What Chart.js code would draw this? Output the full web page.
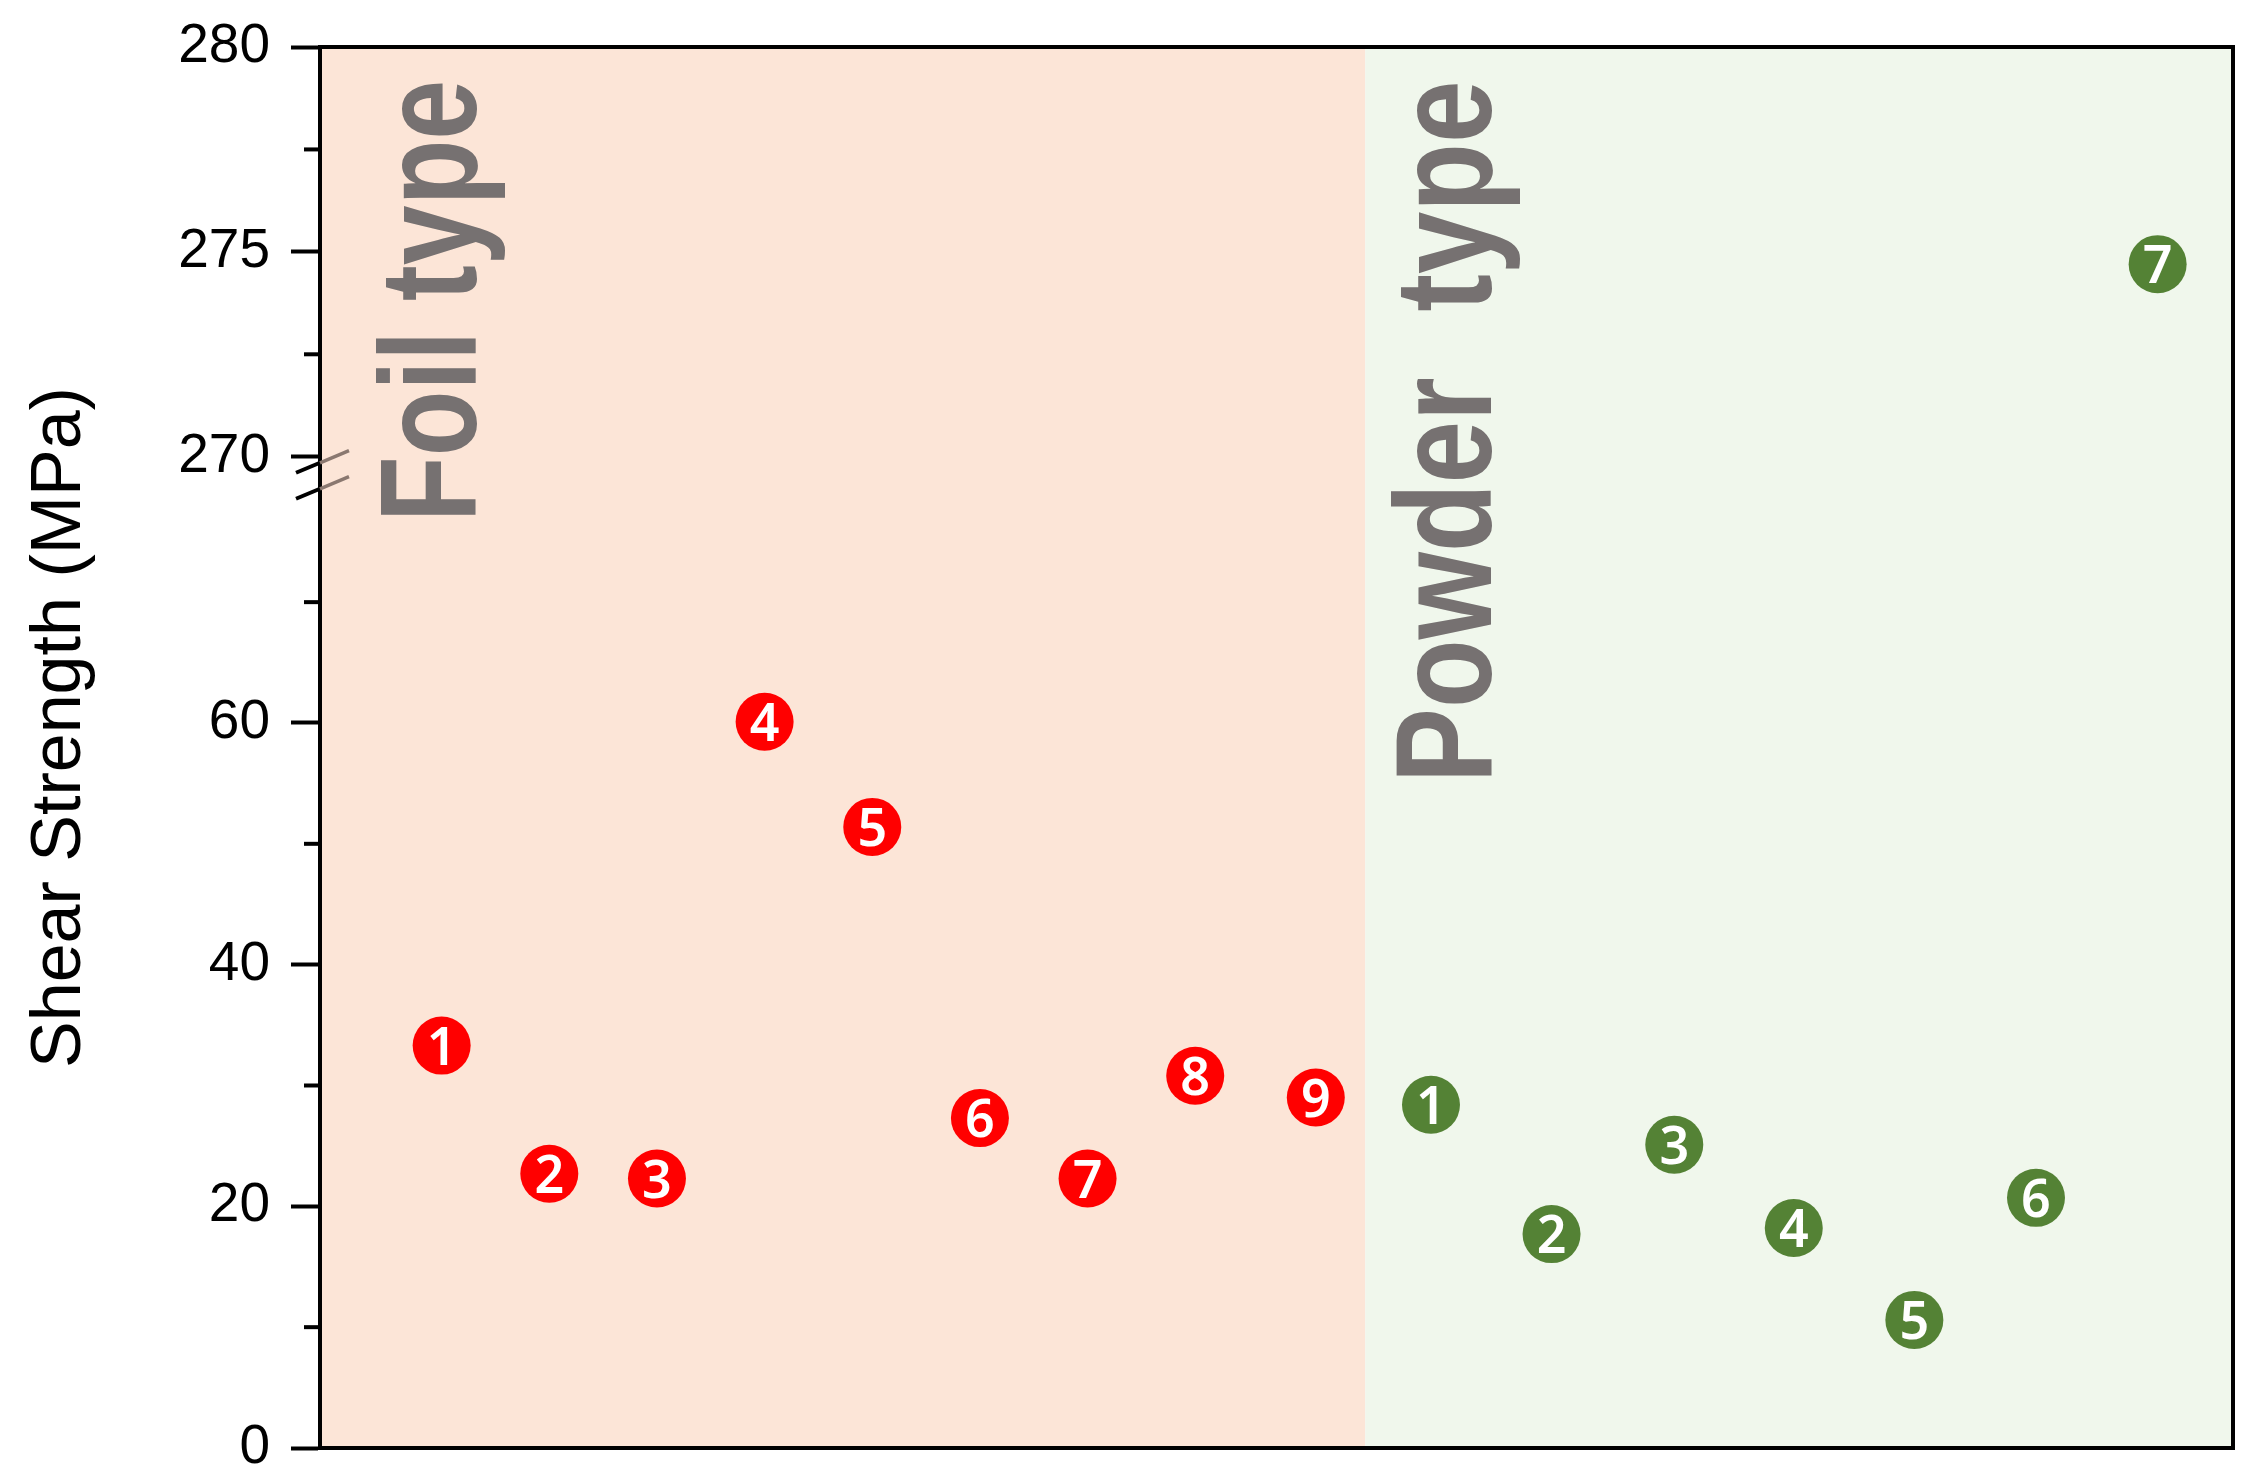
<!DOCTYPE html>
<html>
<head>
<meta charset="utf-8">
<script src="https://cdn.jsdelivr.net/npm/chart.js@4.4.0/dist/chart.umd.min.js"></script>
<style>
  html, body { margin: 0; padding: 0; background: #fff; }
</style>
</head>
<body>
<canvas id="myChart" width="2262" height="1484"></canvas>
<script>
// sample numbers and their horizontal slot (foil spacing = 1)
const foilNo = [1, 2, 3, 4, 5, 6, 7, 8, 9];
const foilPos = [1, 2, 3, 4, 5, 6, 7, 8, 9.12];
const foilShear = [33.3, 22.7, 22.3, 60.1, 51.4, 27.3, 22.3, 30.8, 29.0];

const powderNo = [1, 2, 3, 4, 5, 6, 7];
const powderPos = [10.19, 11.31, 12.45, 13.56, 14.68, 15.81, 16.94];
const powderShear = [28.4, 17.7, 25.1, 18.2, 10.6, 20.7, 274.7];

const lowTicks = [0, 10, 20, 30, 40, 50, 60, 70];
const lowLabels = [0, 20, 40, 60];
const highTicks = [270, 272.5, 275, 277.5, 280];
const highLabels = [270, 275, 280];

const typeNames = ['Foil type', 'Powder type'];
const typeSplit = 9.58;
const breakValue = 269;

const FONT = "'Liberation Sans', Arial, sans-serif";

const toPoints = (pos, vals, nos, keep) => {
    const pts = [];
    pos.forEach((p, i) => {
        if (keep(vals[i])) pts.push({ x: p, y: vals[i], no: nos[i] });
    });
    return pts;
};

// fixed axis width, and no extra room for the end labels
const fixWidth = scale => {
    scale.width = 320;
    scale.paddingTop = 0;
    scale.paddingBottom = 0;
};

const axisCommon = {
    type: 'linear',
    position: 'left',
    stack: 'shear',
    afterFit: fixWidth,
    border: { display: true, color: '#000', width: 4 },
    grid: {
        drawOnChartArea: false,
        tickLength: 29,
        tickWidth: 4,
        tickColor: c => (c.tick && c.tick.major) ? '#000' : 'rgba(0,0,0,0)'
    },
    ticks: {
        padding: 21,
        color: '#000',
        font: { family: FONT, size: 55 }
    }
};

const setTicks = (list, labels) => scale => {
    scale.ticks = list.map(v => ({ value: v, major: labels.includes(v) }));
};

const backPlugin = {
    id: 'backPlugin',
    beforeDatasetsDraw(chart) {
        const { ctx, chartArea: a, scales } = chart;
        const sx = scales.x.getPixelForValue(typeSplit);
        ctx.save();
        ctx.fillStyle = '#FCE5D7';
        ctx.fillRect(a.left, a.top, sx - a.left, a.bottom - a.top);
        ctx.fillStyle = '#F0F7EC';
        ctx.fillRect(sx, a.top, a.right - sx, a.bottom - a.top);

        // big rotated labels
        ctx.fillStyle = '#767171';
        ctx.font = 'bold 137px ' + FONT;
        ctx.textAlign = 'left';
        ctx.textBaseline = 'alphabetic';
        const spots = [[a.left + 156, a.top + 475, 0.785, '0px'], [sx + 126, a.top + 736, 0.82, '42px']];
        typeNames.forEach((t, i) => {
            ctx.save();
            ctx.translate(spots[i][0], spots[i][1]);
            ctx.rotate(-Math.PI / 2);
            ctx.scale(spots[i][2], 1);
            ctx.wordSpacing = spots[i][3];
            ctx.fillText(t, 0, 0);
            ctx.restore();
        });
        ctx.restore();
    },
    afterDatasetsDraw(chart) {
        const { ctx } = chart;
        ctx.save();
        ctx.fillStyle = '#fff';
        ctx.font = '600 52px "Noto Sans", ' + FONT;
        ctx.textAlign = 'center';
        ctx.textBaseline = 'alphabetic';
        chart.data.datasets.forEach((ds, di) => {
            const meta = chart.getDatasetMeta(di);
            meta.data.forEach((el, i) => {
                ctx.fillText(String(ds.data[i].no), el.x, el.y + 19);
            });
        });
        ctx.restore();
    },
    afterDraw(chart) {
        const { ctx, chartArea: a, scales } = chart;
        ctx.save();
        ctx.strokeStyle = '#000';
        ctx.lineWidth = 4;
        ctx.strokeRect(a.left, a.top, a.right - a.left, a.bottom - a.top);

        // minor ticks
        const minor = (scale, list, labels) => {
            list.filter(v => !labels.includes(v)).forEach(v => {
                const y = scale.getPixelForValue(v);
                ctx.beginPath();
                ctx.moveTo(a.left - 16, y);
                ctx.lineTo(a.left, y);
                ctx.stroke();
            });
        };
        minor(scales.yLow, lowTicks, lowLabels);
        minor(scales.yHigh, highTicks, highLabels);

        // axis break marks
        const y0 = scales.yHigh.getPixelForValue(highTicks[0]);
        [16, 42].forEach(off => {
            const x1 = a.left - 24, y1 = y0 + off;
            const x2 = a.left + 29, y2 = y0 + off - 22;
            const xm = a.left, ym = y1 + (y2 - y1) * (xm - x1) / (x2 - x1);
            ctx.lineWidth = 4;
            ctx.strokeStyle = '#000';
            ctx.beginPath();
            ctx.moveTo(x1, y1);
            ctx.lineTo(xm, ym);
            ctx.stroke();
            ctx.strokeStyle = '#8a7870';
            ctx.lineWidth = 3.5;
            ctx.beginPath();
            ctx.moveTo(xm, ym);
            ctx.lineTo(x2, y2);
            ctx.stroke();
        });

        // y axis title
        ctx.fillStyle = '#000';
        ctx.font = '70px ' + FONT;
        ctx.textAlign = 'center';
        ctx.textBaseline = 'alphabetic';
        ctx.translate(80, (a.top + a.bottom) / 2 - 20);
        ctx.rotate(-Math.PI / 2);
        ctx.fillText('Shear Strength (MPa)', 0, 0);
        ctx.restore();
    }
};

const ctx = document.getElementById('myChart').getContext('2d');

let myChart = new Chart(ctx, {
    type: 'scatter',
    data: {
        datasets: [{
            label: 'Foil',
            data: toPoints(foilPos, foilShear, foilNo, v => true),
            yAxisID: 'yLow',
            backgroundColor: '#FF0000',
            pointRadius: 29,
            pointBorderWidth: 0
        }, {
            label: 'Powder',
            data: toPoints(powderPos, powderShear, powderNo, v => v < breakValue),
            yAxisID: 'yLow',
            backgroundColor: '#548235',
            pointRadius: 29,
            pointBorderWidth: 0
        }, {
            label: 'Powder high',
            data: toPoints(powderPos, powderShear, powderNo, v => v >= breakValue),
            yAxisID: 'yHigh',
            backgroundColor: '#548235',
            pointRadius: 29,
            pointBorderWidth: 0
        }]
    },
    options: {
        responsive: false,
        animation: false,
        layout: { padding: { top: 47, right: 25, bottom: 36, left: 0 } },
        plugins: {
            legend: { display: false },
            tooltip: { enabled: false }
        },
        scales: {
            x: { type: 'linear', min: -0.13, max: 17.64, display: false },
            yLow: {
                ...axisCommon,
                stackWeight: 0.69,
                min: 0,
                max: 80,
                afterBuildTicks: setTicks(lowTicks, lowLabels),
                ticks: { ...axisCommon.ticks, callback: v => lowLabels.includes(v) ? String(v) : '' }
            },
            yHigh: {
                ...axisCommon,
                stackWeight: 0.31,
                min: 269.4,
                max: 280,
                afterBuildTicks: setTicks(highTicks, highLabels),
                ticks: { ...axisCommon.ticks, callback: v => highLabels.includes(v) ? String(v) : '' }
            }
        }
    },
    plugins: [backPlugin]
});
</script>
</body>
</html>
